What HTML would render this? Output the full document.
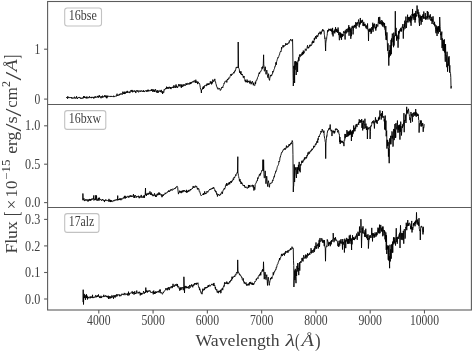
<!DOCTYPE html>
<html><head><meta charset="utf-8"><title>Spectra</title>
<style>html,body{margin:0;padding:0;background:#fff;}svg{display:block;}</style>
</head><body>
<svg width="473" height="352" viewBox="0 0 473 352">
<rect width="473" height="352" fill="#fff"/>
<g fill="none" stroke="#000" stroke-width="0.9" stroke-linejoin="round">
<path d="M66.30,98.00 66.55,97.43 66.80,98.02 67.05,97.72 67.30,98.09 67.55,98.70 67.80,96.31 68.05,97.77 68.30,98.09 68.55,97.71 68.80,97.00 69.05,97.70 69.30,97.99 69.55,97.94 69.80,97.36 70.05,97.39 70.30,97.82 70.55,97.37 70.80,97.92 71.05,98.22 71.30,98.13 71.55,97.19 71.80,98.33 72.05,97.66 72.30,97.74 72.55,98.42 72.80,97.92 73.05,97.86 73.30,97.82 73.55,97.84 73.80,97.99 74.05,98.57 74.30,97.39 74.55,96.76 74.80,98.04 75.05,97.69 75.30,97.90 75.55,98.45 75.80,98.03 76.05,97.67 76.30,98.06 76.55,96.29 76.80,97.15 77.05,98.59 77.30,98.15 77.55,98.80 77.80,97.87 78.05,97.70 78.30,97.38 78.55,97.94 78.80,97.57 79.05,98.01 79.30,96.94 79.55,97.42 79.80,97.74 80.05,97.85 80.30,98.39 80.55,97.63 80.80,97.84 81.05,98.85 81.30,97.93 81.55,98.32 81.80,97.94 82.05,98.18 82.30,98.28 82.55,98.12 82.80,98.49 83.05,97.38 83.30,98.13 83.55,96.39 83.80,97.29 84.05,96.12 84.30,97.85 84.55,96.84 84.80,96.60 85.05,97.77 85.30,97.23 85.55,97.93 85.80,97.87 86.05,98.26 86.30,96.79 86.55,97.69 86.80,98.36 87.05,96.63 87.30,97.24 87.55,97.74 87.80,98.27 88.05,97.65 88.30,97.95 88.55,98.03 88.80,96.92 89.05,97.22 89.30,97.44 89.55,96.32 89.80,97.68 90.05,97.53 90.30,97.57 90.55,97.40 90.80,97.89 91.05,97.37 91.30,98.17 91.55,97.06 91.80,97.73 92.05,96.81 92.30,97.18 92.55,97.53 92.80,97.03 93.05,97.55 93.30,97.76 93.55,97.31 93.80,98.52 94.05,96.77 94.30,96.86 94.55,97.60 94.80,97.38 95.05,96.58 95.30,97.76 95.55,96.58 95.80,97.03 96.05,96.95 96.30,97.06 96.55,97.39 96.80,97.66 97.05,97.40 97.30,95.92 97.55,97.17 97.80,96.24 98.05,96.79 98.30,96.50 98.55,97.64 98.80,96.81 99.05,95.44 99.30,96.76 99.55,95.50 99.80,97.07 100.05,97.00 100.30,97.17 100.55,97.38 100.80,96.54 101.05,98.27 101.30,96.43 101.55,96.61 101.80,97.27 102.05,96.41 102.30,96.31 102.55,95.69 102.80,97.76 103.05,96.16 103.30,96.54 103.55,96.94 103.80,97.04 104.05,96.65 104.30,96.70 104.55,96.62 104.80,95.14 105.05,96.70 105.30,95.83 105.55,96.95 105.80,97.09 106.05,95.69 106.30,97.80 106.55,96.61 106.80,98.31 107.05,95.55 107.30,97.30 107.55,96.47 107.80,97.06 108.05,95.91 108.30,96.23 108.55,96.24 108.80,96.34 109.05,96.47 109.30,96.53 109.55,96.44 109.80,96.07 110.05,96.06 110.30,96.67 110.55,95.94 110.80,96.64 111.05,96.57 111.30,95.98 111.55,96.58 111.80,96.16 112.05,96.18 112.30,96.59 112.55,96.26 112.80,96.69 113.05,96.73 113.30,96.74 113.55,95.74 113.80,96.94 114.05,96.98 114.30,96.85 114.55,96.18 114.80,96.49 115.05,96.24 115.30,95.87 115.55,96.14 115.80,95.97 116.05,96.41 116.30,96.11 116.55,96.03 116.80,94.49 117.05,93.72 117.30,95.83 117.55,95.28 117.80,95.13 118.05,95.74 118.30,95.12 118.55,94.87 118.80,94.70 119.05,95.45 119.30,94.00 119.55,94.79 119.80,93.93 120.05,93.69 120.30,94.52 120.55,93.99 120.80,93.54 121.05,94.23 121.30,93.87 121.55,93.85 121.80,93.54 122.05,94.74 122.30,94.49 122.55,93.58 122.80,91.68 123.05,92.95 123.30,93.74 123.55,92.70 123.80,93.86 124.05,92.94 124.30,91.67 124.55,94.06 124.80,93.19 125.05,92.78 125.30,93.32 125.55,93.58 125.80,91.83 126.05,92.86 126.30,91.78 126.55,92.31 126.80,91.63 127.05,92.77 127.30,90.86 127.55,92.03 127.80,92.65 128.05,92.12 128.30,91.73 128.55,92.06 128.80,92.59 129.05,92.78 129.30,91.72 129.55,91.74 129.80,93.09 130.05,91.93 130.30,91.56 130.55,91.62 130.80,91.58 131.05,89.99 131.30,91.70 131.55,90.65 131.80,90.99 132.05,89.93 132.30,90.97 132.55,92.27 132.80,90.65 133.05,91.61 133.30,91.20 133.55,91.23 133.80,91.63 134.05,91.49 134.30,90.39 134.55,91.50 134.80,91.37 135.05,91.10 135.30,91.33 135.55,90.85 135.80,93.06 136.05,90.90 136.30,90.98 136.55,90.59 136.80,90.28 137.05,90.98 137.30,91.62 137.55,90.84 137.80,90.30 138.05,91.32 138.30,91.93 138.55,92.32 138.80,91.19 139.05,90.55 139.30,91.24 139.55,91.36 139.80,91.48 140.05,91.36 140.30,90.67 140.55,91.72 140.80,91.06 141.05,90.55 141.30,90.60 141.55,90.64 141.80,91.53 142.05,91.11 142.30,91.24 142.55,91.80 142.80,91.31 143.05,91.56 143.30,90.14 143.55,91.49 143.80,91.81 144.05,91.00 144.30,91.95 144.55,91.79 144.80,90.87 145.05,90.79 145.30,90.66 145.55,90.59 145.80,90.97 146.05,91.52 146.30,91.47 146.55,90.54 146.80,91.50 147.05,90.42 147.30,91.28 147.55,91.21 147.80,89.77 148.05,91.39 148.30,91.09 148.55,89.84 148.80,90.67 149.05,91.32 149.30,90.93 149.55,90.53 149.80,90.30 150.05,91.03 150.30,90.90 150.55,90.73 150.80,90.15 151.05,90.65 151.30,89.47 151.55,90.94 151.80,90.54 152.05,88.99 152.30,90.33 152.55,91.44 152.80,90.50 153.05,91.69 153.30,90.25 153.55,91.25 153.80,89.39 154.05,90.46 154.30,89.96 154.55,91.94 154.80,90.62 155.05,90.49 155.30,90.43 155.55,89.26 155.80,90.51 156.05,92.10 156.30,91.86 156.55,90.80 156.80,90.98 157.05,92.90 157.30,90.48 157.55,90.16 157.80,91.23 158.05,92.98 158.30,92.18 158.55,90.80 158.80,90.71 159.05,90.49 159.30,90.38 159.55,91.22 159.80,91.07 160.05,91.86 160.30,91.08 160.55,90.65 160.80,92.13 161.05,90.75 161.30,89.88 161.55,91.51 161.80,92.55 162.05,91.89 162.30,91.23 162.60,94.00 162.80,91.73 163.05,92.72 163.30,92.27 163.55,91.72 163.80,92.43 164.05,89.47 164.30,89.35 164.55,90.15 164.80,90.00 165.05,89.36 165.30,89.12 165.55,88.35 165.80,89.01 166.05,88.40 166.30,88.61 166.55,86.69 166.80,88.76 167.05,88.11 167.30,88.11 167.55,88.05 167.80,86.99 168.05,88.88 168.30,88.32 168.55,87.48 168.80,88.22 169.05,88.39 169.30,86.78 169.55,87.61 169.80,87.36 170.05,87.79 170.30,88.66 170.55,87.12 170.80,88.50 171.05,89.10 171.30,87.57 171.55,88.03 171.80,87.43 172.05,87.52 172.30,86.94 172.55,87.13 172.80,87.88 173.05,86.79 173.30,87.83 173.55,87.93 173.80,85.38 174.05,86.52 174.30,87.66 174.55,86.68 174.80,86.42 175.05,85.71 175.30,86.78 175.55,87.78 175.80,86.29 176.05,84.48 176.30,87.46 176.55,85.91 176.80,86.47 177.05,86.68 177.30,87.06 177.55,87.91 177.80,86.43 178.05,86.61 178.30,86.27 178.55,85.14 178.80,84.10 179.05,86.23 179.30,85.72 179.55,85.88 179.80,84.54 180.05,86.32 180.30,86.18 180.55,86.19 180.80,85.63 181.05,84.18 181.30,87.83 181.55,85.15 181.80,86.27 182.05,86.17 182.30,87.03 182.55,85.16 182.80,84.63 183.05,84.36 183.30,85.29 183.55,86.25 183.80,84.73 184.05,84.36 184.30,85.29 184.55,85.43 184.80,84.60 185.05,85.44 185.30,85.74 185.55,85.27 185.80,85.20 186.05,83.21 186.30,84.32 186.55,84.96 186.80,83.78 187.05,84.80 187.30,83.43 187.55,83.09 187.80,83.18 188.05,83.86 188.30,83.90 188.55,83.53 188.80,83.88 189.05,84.64 189.30,83.12 189.55,82.66 189.80,83.53 190.05,83.06 190.30,84.07 190.55,82.48 190.80,84.04 191.05,82.12 191.30,82.04 191.55,83.13 191.80,82.44 192.05,82.22 192.30,82.35 192.55,82.13 192.80,82.10 193.05,81.15 193.30,82.18 193.55,82.12 193.80,81.43 194.05,80.56 194.30,80.51 194.55,81.32 194.80,81.40 195.05,81.04 195.30,82.98 195.55,80.77 195.80,79.73 196.05,81.40 196.30,81.20 196.55,82.65 196.80,81.75 197.05,81.85 197.30,81.70 197.55,84.10 197.80,82.44 198.05,81.73 198.30,81.97 198.55,83.26 198.80,83.55 199.05,83.80 199.30,83.87 199.55,83.44 199.80,84.63 200.05,85.86 200.30,87.62 200.55,89.00 200.80,89.60 201.05,89.78 201.40,93.00 201.55,89.83 201.80,89.59 202.05,89.18 202.30,89.44 202.55,87.70 202.80,88.97 203.05,88.60 203.30,86.46 203.55,89.00 203.80,86.68 204.05,86.96 204.30,87.58 204.55,85.49 204.80,85.76 205.05,85.81 205.30,85.80 205.55,85.18 205.80,85.22 206.05,85.33 206.30,85.92 206.55,86.04 206.80,83.75 207.05,84.29 207.30,85.16 207.55,83.90 207.80,83.57 208.05,84.72 208.30,83.48 208.55,84.89 208.80,83.91 209.05,84.30 209.30,84.37 209.55,83.48 209.80,83.10 210.05,83.51 210.30,81.45 210.55,82.38 210.80,83.35 211.05,81.63 211.30,83.25 211.55,84.40 211.80,81.81 212.05,83.50 212.30,82.31 212.55,82.74 212.80,79.59 213.05,81.04 213.30,80.77 213.55,81.51 213.80,81.90 214.05,81.20 214.30,79.95 214.55,80.10 214.80,78.89 215.05,80.60 215.30,81.06 215.55,81.64 215.80,83.40 216.05,84.04 216.30,84.90 216.55,86.47 216.80,86.62 217.05,87.52 217.30,87.32 217.55,88.75 217.80,89.00 218.05,89.36 218.30,88.53 218.55,87.97 218.80,88.00 219.05,88.33 219.30,89.18 219.55,88.78 219.80,88.37 220.05,89.24 220.30,90.53 220.55,90.08 220.80,89.60 221.05,89.64 221.30,89.02 221.55,88.31 221.80,87.05 222.05,87.72 222.30,87.04 222.55,86.95 222.80,87.69 223.05,86.33 223.30,85.81 223.55,84.81 223.80,84.53 224.05,83.02 224.30,83.38 224.55,82.93 224.80,81.64 225.05,81.62 225.30,81.71 225.55,81.16 225.80,80.81 226.05,81.18 226.30,80.93 226.55,80.66 226.80,82.46 227.05,79.82 227.30,80.00 227.55,79.00 227.80,79.80 228.05,78.82 228.30,79.25 228.55,78.61 228.80,77.68 229.05,78.49 229.30,77.98 229.55,77.73 229.80,77.48 230.05,76.38 230.30,75.50 230.55,75.29 230.80,74.17 231.05,74.97 231.30,75.83 231.55,74.63 231.80,73.95 232.05,74.63 232.30,73.82 232.55,74.11 232.80,73.91 233.05,73.59 233.30,72.98 233.55,72.49 233.80,72.04 234.05,73.25 234.30,72.37 234.55,70.86 234.80,71.30 235.05,70.84 235.30,71.11 235.55,69.56 235.80,69.53 236.05,67.86 236.30,67.00 236.55,67.60 236.80,66.94 237.05,66.81 237.30,66.90 237.55,67.36 237.80,68.00 238.05,66.78 238.20,42.00 238.55,68.05 238.80,68.13 239.05,68.37 239.30,69.29 239.55,72.66 239.80,71.44 240.05,71.78 240.30,71.64 240.55,73.92 240.80,72.15 241.05,71.42 241.30,74.91 241.55,74.06 241.80,74.82 242.05,74.69 242.30,73.97 242.55,74.82 242.80,75.78 243.05,76.53 243.30,77.56 243.55,76.30 243.80,77.34 244.05,76.05 244.30,78.71 244.55,78.84 244.80,79.49 245.05,81.24 245.30,80.65 245.55,79.87 245.80,82.19 246.05,81.20 246.30,81.85 246.55,81.31 246.80,82.19 247.05,79.55 247.30,81.05 247.55,82.45 247.80,81.00 248.05,81.42 248.30,80.84 248.55,82.09 248.80,81.62 249.05,81.21 249.30,82.16 249.55,83.39 249.80,81.69 250.05,80.59 250.30,82.25 250.55,82.69 250.80,81.89 251.05,84.27 251.30,82.39 251.55,82.67 251.80,83.55 252.05,83.21 252.30,81.09 252.55,81.81 252.80,82.01 253.05,82.72 253.30,85.19 253.55,83.03 253.80,84.09 254.05,85.25 254.30,85.49 254.55,85.23 254.80,85.51 255.05,84.11 255.30,81.83 255.55,84.03 255.80,82.05 256.05,80.73 256.30,80.99 256.55,80.68 256.80,79.90 257.05,78.81 257.30,78.89 257.55,77.53 257.80,76.72 258.05,76.56 258.30,76.47 258.55,74.51 258.80,73.73 259.05,74.09 259.30,72.51 259.55,73.85 259.80,72.61 260.05,71.73 260.30,71.92 260.55,71.57 260.80,71.63 261.05,70.38 261.30,70.17 261.55,70.31 261.80,69.62 262.05,67.06 262.30,68.70 262.55,66.55 262.80,67.90 263.05,67.83 263.30,63.80 263.60,54.80 263.80,64.71 264.05,66.34 264.30,71.10 264.55,71.23 264.80,70.51 265.05,68.48 265.30,66.75 265.55,70.40 265.80,71.65 266.05,74.29 266.30,71.93 266.55,70.96 266.80,70.08 267.05,71.53 267.30,74.47 267.55,75.97 267.80,77.35 268.05,77.80 268.30,74.94 268.55,73.73 268.80,76.05 269.05,79.42 269.30,79.25 269.55,80.38 269.80,78.46 270.05,77.48 270.30,76.81 270.55,74.95 270.80,75.33 271.05,75.69 271.30,76.11 271.55,74.96 271.80,75.23 272.05,73.90 272.30,73.83 272.55,73.85 272.80,71.07 273.05,72.28 273.30,71.46 273.55,71.35 273.80,70.21 274.05,69.35 274.30,69.01 274.55,68.33 274.80,66.98 275.05,66.05 275.30,66.25 275.55,64.60 275.80,62.48 276.05,62.34 276.30,64.84 276.55,61.79 276.80,61.24 277.05,60.35 277.30,59.35 277.55,58.98 277.80,57.54 278.05,58.07 278.30,57.66 278.55,56.96 278.80,56.38 279.05,55.51 279.30,54.62 279.55,54.71 279.80,53.17 280.05,52.11 280.30,51.96 280.55,51.29 280.80,50.93 281.05,51.60 281.30,50.47 281.55,47.26 281.80,48.46 282.05,47.66 282.30,47.31 282.55,46.47 282.80,46.59 283.05,45.07 283.30,45.71 283.55,47.27 283.80,46.35 284.05,45.51 284.30,46.21 284.55,45.74 284.80,45.57 285.05,45.47 285.30,45.74 285.55,45.33 285.80,43.18 286.05,44.97 286.30,44.22 286.55,44.07 286.80,44.82 287.05,44.42 287.30,43.55 287.55,44.36 287.80,43.61 288.05,43.87 288.30,43.50 288.55,43.08 288.80,42.50 289.05,43.21 289.30,40.72 289.55,41.41 289.80,40.89 290.05,40.08 290.30,39.96 290.55,40.01 290.80,39.10 291.05,40.40 291.30,40.84 291.55,40.81 291.80,40.61 292.05,40.41 292.30,40.96 292.55,39.40 292.80,52.00 293.05,73.17 293.30,86.00 293.55,80.57 293.80,66.09 294.05,68.57 294.30,65.58 294.60,83.00 294.80,61.35 295.05,69.89 295.30,67.69 295.55,61.17 295.80,64.92 296.05,65.15 296.20,75.00 296.55,61.77 296.80,62.87 297.05,64.79 297.30,62.78 297.60,72.00 297.80,60.75 298.05,60.96 298.30,61.29 298.55,57.39 298.80,60.80 299.05,60.77 299.30,56.31 299.55,54.55 299.80,56.12 300.05,57.12 300.30,56.25 300.55,55.57 300.80,54.28 301.05,56.06 301.30,55.46 301.55,54.76 301.80,53.67 302.05,52.63 302.30,55.11 302.55,52.07 302.80,53.60 303.05,54.26 303.30,50.58 303.55,54.03 303.80,52.28 304.05,53.08 304.30,51.83 304.55,51.34 304.80,51.43 305.05,51.05 305.30,48.81 305.55,49.24 305.80,49.29 306.05,50.15 306.30,50.50 306.55,49.39 306.80,48.88 307.05,48.02 307.30,46.45 307.55,45.32 307.80,47.06 308.05,48.19 308.30,47.05 308.55,48.11 308.80,48.13 309.05,46.75 309.30,46.85 309.55,45.13 309.80,45.32 310.05,46.36 310.30,44.70 310.55,45.38 310.80,45.78 311.05,44.87 311.30,45.45 311.55,45.09 311.80,44.94 312.05,42.24 312.30,41.69 312.55,43.26 312.80,40.76 313.05,42.10 313.30,42.95 313.55,41.26 313.80,42.50 314.05,40.69 314.30,38.16 314.55,40.06 314.80,38.43 315.05,37.63 315.30,38.31 315.55,36.07 315.80,36.43 316.05,36.98 316.30,38.71 316.55,37.48 316.80,35.34 317.05,36.10 317.30,35.83 317.55,37.06 317.80,36.52 318.05,34.78 318.30,35.17 318.55,34.23 318.80,32.92 319.05,34.07 319.30,32.92 319.55,32.35 319.80,32.08 320.05,31.62 320.30,32.65 320.55,32.14 320.80,34.48 321.05,32.07 321.30,33.41 321.55,31.41 321.80,31.08 322.05,30.57 322.30,31.33 322.55,30.33 322.80,29.10 323.05,31.10 323.30,30.37 323.55,31.12 323.80,30.63 324.05,30.67 324.30,34.28 324.55,35.81 324.80,38.57 325.05,37.81 325.30,42.96 325.60,51.00 325.80,43.37 326.05,41.05 326.30,40.08 326.55,39.52 326.80,36.69 327.05,35.66 327.30,33.77 327.55,30.33 327.80,31.79 328.05,31.73 328.30,29.98 328.55,30.67 328.80,28.75 329.05,29.50 329.30,29.04 329.55,30.24 329.80,29.35 330.05,30.40 330.30,29.02 330.55,28.76 330.80,31.04 331.05,29.05 331.30,28.87 331.55,31.52 331.80,30.14 332.05,31.85 332.30,34.47 332.55,27.89 332.80,30.50 333.05,36.40 333.30,31.76 333.55,30.86 333.80,31.51 334.05,32.07 334.30,32.49 334.55,30.35 334.80,33.39 335.05,29.23 335.30,30.28 335.55,27.17 335.80,31.69 336.05,31.90 336.30,28.90 336.55,30.98 336.80,32.11 337.05,29.54 337.30,29.64 337.55,32.84 337.80,32.34 338.05,27.51 338.30,30.83 338.55,30.49 338.80,35.10 339.05,32.09 339.30,40.20 339.60,40.00 339.80,38.12 340.05,32.36 340.30,36.94 340.55,32.86 340.80,37.81 341.05,33.50 341.30,35.09 341.55,39.80 341.80,33.89 342.05,35.57 342.30,34.11 342.55,36.77 342.80,34.05 343.05,36.03 343.30,33.53 343.55,31.44 343.80,31.27 344.05,30.97 344.30,32.82 344.55,32.13 344.80,32.45 345.10,39.50 345.30,30.30 345.55,32.36 345.80,32.07 346.05,33.52 346.30,28.94 346.55,30.35 346.80,32.62 347.05,31.63 347.30,31.35 347.55,30.63 347.80,28.71 348.05,32.08 348.30,27.90 348.55,29.64 348.80,25.17 349.05,35.74 349.30,27.00 349.55,29.55 349.80,28.81 350.05,31.83 350.30,28.91 350.55,30.49 350.80,38.80 351.05,27.62 351.30,36.16 351.55,31.69 351.80,29.45 352.05,26.24 352.30,25.85 352.55,27.86 352.80,26.93 353.05,34.41 353.30,31.81 353.55,27.16 353.80,25.74 354.05,27.75 354.30,26.37 354.55,24.91 354.80,27.22 355.05,26.68 355.30,25.80 355.55,26.88 355.80,22.13 356.05,28.55 356.30,24.24 356.55,22.87 356.80,22.99 357.05,25.73 357.30,23.90 357.55,22.29 357.80,23.75 358.05,23.16 358.30,21.87 358.55,19.59 358.80,21.74 359.05,26.83 359.30,27.32 359.55,22.53 359.80,24.28 360.05,24.62 360.30,17.97 360.55,23.54 360.80,19.98 361.05,20.55 361.30,22.93 361.55,21.51 361.80,20.67 362.05,22.13 362.30,21.32 362.55,19.83 362.80,23.49 363.05,25.95 363.30,23.13 363.55,25.45 363.80,21.91 364.05,26.11 364.30,25.69 364.55,24.14 364.80,25.67 365.05,23.80 365.30,26.31 365.55,26.61 365.80,25.87 366.05,28.29 366.30,25.45 366.55,27.05 366.80,27.08 367.05,29.11 367.30,27.41 367.55,23.49 367.80,29.21 368.05,30.33 368.30,31.23 368.50,41.00 368.80,29.41 369.05,31.54 369.30,28.71 369.55,31.29 369.80,30.78 370.05,31.89 370.30,28.72 370.55,30.78 370.80,28.60 371.05,33.89 371.30,30.52 371.55,32.78 371.80,27.02 372.05,29.58 372.30,29.93 372.55,27.15 372.80,22.72 373.05,31.74 373.30,29.43 373.55,24.56 373.80,24.30 374.05,27.70 374.30,25.39 374.55,23.66 374.80,25.16 375.05,27.53 375.30,28.85 375.55,27.12 375.80,30.61 376.05,28.25 376.30,24.44 376.55,28.12 376.80,24.16 377.05,24.92 377.30,25.47 377.55,25.61 377.80,26.53 378.05,24.57 378.30,21.74 378.55,17.29 378.80,22.91 379.05,22.26 379.30,23.96 379.55,24.01 379.70,16.90 380.05,21.81 380.30,20.85 380.55,23.86 380.80,23.31 381.05,22.19 381.30,24.61 381.55,21.60 381.80,20.04 382.05,23.56 382.30,25.74 382.55,21.29 382.80,26.50 383.05,26.79 383.30,24.26 383.55,22.35 383.80,24.64 384.05,23.77 384.30,27.62 384.55,22.98 384.80,29.57 385.05,29.74 385.30,30.10 385.55,35.47 385.80,26.07 386.05,39.83 386.30,35.60 386.55,40.09 386.80,32.29 387.05,32.58 387.30,41.91 387.55,50.73 387.80,47.92 388.05,43.39 388.30,53.23 388.55,54.80 388.80,65.60 389.05,52.40 389.30,57.29 389.55,50.07 389.80,54.02 390.05,45.17 390.30,47.89 390.55,55.57 390.80,46.94 391.05,39.89 391.30,54.19 391.55,38.50 391.80,45.68 392.05,38.37 392.30,33.58 392.55,35.58 392.80,37.08 393.05,42.21 393.30,37.23 393.55,47.21 393.80,32.64 394.05,45.56 394.30,35.66 394.55,36.58 394.80,36.29 395.05,36.05 395.30,11.20 395.55,35.98 395.80,35.30 396.05,27.89 396.30,32.44 396.55,40.61 396.80,34.67 397.05,34.93 397.30,38.56 397.55,36.58 397.80,38.03 398.05,47.69 398.30,38.99 398.55,31.27 398.80,39.23 399.05,30.84 399.30,33.41 399.55,30.90 399.80,29.43 400.05,30.30 400.30,30.99 400.55,30.92 400.80,27.86 401.05,31.67 401.30,28.73 401.55,31.23 401.80,28.26 402.05,26.79 402.30,27.34 402.55,27.58 402.80,24.16 403.05,27.84 403.30,38.62 403.55,27.16 403.80,30.32 404.05,26.97 404.30,23.88 404.55,27.04 404.80,20.68 405.05,28.69 405.30,24.46 405.55,21.47 405.80,16.71 406.05,16.64 406.30,28.02 406.55,25.91 406.80,21.14 407.05,21.63 407.30,22.13 407.55,14.70 407.80,18.74 408.05,22.47 408.30,18.95 408.55,17.26 408.80,19.74 409.05,17.34 409.30,21.22 409.55,19.67 409.80,16.80 410.05,21.60 410.30,22.53 410.55,15.68 410.80,17.85 411.05,25.78 411.30,16.59 411.55,18.90 411.80,20.32 412.05,14.06 412.30,16.04 412.55,8.98 412.80,16.63 413.05,18.55 413.30,14.58 413.55,15.71 413.80,13.74 414.05,20.01 414.30,15.81 414.55,13.47 414.80,18.41 415.05,22.58 415.30,13.20 415.55,20.05 415.80,10.93 416.05,15.73 416.30,16.60 416.55,15.18 416.80,15.78 417.05,5.52 417.30,11.63 417.55,13.17 417.80,13.86 418.05,9.44 418.30,15.97 418.55,17.43 418.80,12.20 419.05,22.27 419.30,23.14 419.50,26.00 419.80,14.80 420.05,14.78 420.30,20.57 420.55,16.46 420.80,19.48 421.05,24.73 421.30,23.05 421.55,15.97 421.80,17.60 422.05,22.01 422.30,17.86 422.55,15.54 422.80,17.23 423.05,14.10 423.30,14.97 423.55,18.67 423.80,11.53 424.05,17.92 424.30,18.36 424.55,18.36 424.80,17.35 425.05,18.47 425.30,13.09 425.55,19.61 425.80,18.61 426.05,19.05 426.30,17.36 426.55,16.52 426.80,16.34 427.05,19.56 427.30,11.03 427.55,17.97 427.80,17.80 428.05,11.87 428.30,15.08 428.55,16.94 428.80,17.55 429.05,19.45 429.30,18.74 429.55,15.68 429.80,17.19 430.05,16.48 430.30,14.31 430.55,18.73 430.80,20.70 431.05,18.83 431.30,19.00 431.55,20.63 431.80,16.90 432.05,23.97 432.30,20.03 432.55,19.28 432.80,21.74 433.05,16.33 433.30,22.82 433.55,24.29 433.80,23.75 434.05,23.96 434.30,25.02 434.55,21.80 434.80,26.27 435.05,24.41 435.30,26.06 435.55,29.11 435.80,32.09 436.05,33.25 436.30,25.53 436.55,30.78 436.80,30.31 437.05,36.02 437.30,27.67 437.55,32.17 437.80,26.40 438.05,28.88 438.30,33.60 438.55,26.42 438.80,29.66 439.05,25.92 439.30,26.05 439.55,31.86 439.70,17.00 440.05,26.77 440.30,28.70 440.55,35.14 440.80,34.25 441.05,39.96 441.30,33.27 441.55,34.64 441.80,31.62 442.05,48.06 442.30,38.39 442.55,46.16 442.80,44.47 443.05,50.60 443.30,40.03 443.55,44.66 443.80,51.10 444.05,47.78 444.30,39.34 444.55,52.43 444.80,44.10 445.05,56.39 445.30,61.73 445.55,44.06 445.80,55.84 446.05,55.85 446.30,55.44 446.55,60.06 446.80,67.20 447.05,51.74 447.30,60.93 447.55,71.69 447.80,64.07 448.05,66.04 448.30,64.68 448.55,57.46 448.80,64.92 449.05,56.21 449.30,65.28 449.55,72.38 449.80,65.26 450.05,72.81 450.30,72.53 450.55,73.57 450.80,77.75 451.05,88.45 451.30,85.98"/>
<path d="M82.70,200.29 82.90,193.50 83.20,199.59 83.45,199.41 83.70,199.86 83.95,198.32 84.20,200.73 84.45,201.08 84.70,199.97 84.95,200.07 85.20,200.27 85.45,200.27 85.70,200.51 85.95,199.01 86.20,200.14 86.45,200.20 86.70,199.89 86.95,200.80 87.20,200.99 87.45,201.11 87.70,200.34 87.95,199.29 88.20,201.47 88.45,200.25 88.70,200.19 88.95,200.93 89.20,199.01 89.45,199.02 89.70,200.37 89.95,199.55 90.20,199.10 90.45,200.65 90.70,199.68 90.95,198.99 91.20,200.30 91.45,198.94 91.70,198.97 91.95,199.05 92.20,198.64 92.45,199.32 92.70,199.68 92.95,199.19 93.20,198.23 93.45,198.88 93.80,195.40 93.95,200.47 94.20,199.50 94.45,198.90 94.70,199.58 94.95,198.78 95.20,199.10 95.45,199.60 95.80,195.20 95.95,199.75 96.20,200.24 96.50,195.60 96.70,198.22 96.95,198.72 97.20,200.88 97.45,200.15 97.70,199.79 97.95,198.90 98.20,199.64 98.45,197.86 98.70,199.81 98.95,200.82 99.20,199.26 99.45,197.68 99.70,199.47 99.95,199.53 100.20,199.52 100.45,200.04 100.70,199.40 100.95,199.52 101.20,199.91 101.45,200.67 101.70,199.86 101.95,200.23 102.20,200.05 102.45,199.05 102.70,199.69 102.95,199.80 103.20,200.42 103.45,199.89 103.70,199.80 103.95,200.66 104.20,200.01 104.45,202.05 104.70,200.67 104.95,200.03 105.20,200.70 105.45,200.59 105.70,199.47 105.95,200.36 106.20,200.24 106.45,200.03 106.70,200.66 106.95,201.00 107.20,200.97 107.45,200.71 107.70,200.30 107.95,200.13 108.20,200.66 108.45,200.73 108.70,201.53 108.95,198.89 109.20,200.72 109.45,200.26 109.70,200.57 109.95,201.76 110.20,199.89 110.45,202.05 110.70,200.35 110.95,201.12 111.20,200.12 111.45,201.15 111.70,202.00 111.95,201.65 112.20,201.75 112.45,201.48 112.70,200.90 112.95,200.99 113.20,200.53 113.45,200.40 113.70,201.19 113.95,201.33 114.20,200.86 114.45,200.11 114.70,200.65 114.95,200.33 115.20,199.55 115.45,199.95 115.70,200.43 115.95,200.00 116.20,199.57 116.45,199.69 116.70,199.84 116.95,199.31 117.20,200.46 117.45,199.89 117.70,195.60 117.95,199.88 118.20,199.93 118.45,199.00 118.70,200.11 118.95,199.25 119.20,199.30 119.45,199.74 119.70,198.46 119.95,199.40 120.20,199.93 120.45,198.93 120.70,198.41 120.95,200.22 121.20,198.99 121.45,198.64 121.70,198.60 121.95,199.40 122.20,198.82 122.45,198.71 122.70,198.46 122.95,198.51 123.20,197.58 123.45,197.59 123.70,198.42 123.95,198.21 124.20,197.08 124.45,195.87 124.70,198.25 124.95,197.34 125.20,198.20 125.45,198.42 125.70,195.94 125.95,196.16 126.20,197.87 126.45,197.16 126.70,197.46 126.95,196.96 127.20,196.73 127.45,196.51 127.70,196.41 127.95,195.86 128.20,197.39 128.45,197.13 128.70,197.52 128.95,196.06 129.20,196.76 129.45,197.19 129.70,196.18 129.95,196.03 130.20,195.16 130.45,196.46 130.70,196.69 130.95,196.07 131.20,197.02 131.45,195.63 131.70,196.27 131.95,196.50 132.20,196.00 132.45,196.60 132.70,196.43 132.95,195.56 133.20,195.83 133.45,194.13 133.70,196.02 133.95,197.84 134.20,195.78 134.45,195.96 134.70,197.91 134.95,195.32 135.20,195.93 135.45,195.46 135.70,195.88 135.95,195.87 136.20,197.73 136.45,196.81 136.70,196.27 136.95,196.61 137.20,196.26 137.45,196.32 137.70,196.63 137.95,197.13 138.20,196.26 138.45,195.78 138.70,197.03 138.95,197.64 139.20,198.24 139.45,196.62 139.70,196.80 139.95,198.00 140.20,196.26 140.45,196.71 140.70,196.43 140.95,196.42 141.20,194.91 141.45,196.06 141.70,197.54 141.95,196.75 142.20,197.52 142.45,197.27 142.70,197.30 142.95,196.29 143.20,196.53 143.45,197.65 143.70,195.80 143.95,196.71 144.20,195.29 144.45,197.77 144.70,195.50 144.95,195.74 145.20,194.50 145.50,188.00 145.70,195.01 145.95,194.05 146.20,193.83 146.45,195.93 146.70,194.11 146.95,194.21 147.20,193.51 147.45,194.01 147.70,194.72 147.95,193.80 148.20,192.85 148.45,194.44 148.70,193.48 148.95,193.39 149.20,193.23 149.45,193.89 149.70,194.02 149.95,191.38 150.20,193.75 150.45,194.79 150.70,193.28 150.95,193.69 151.20,192.38 151.45,194.02 151.70,194.86 151.95,193.84 152.20,195.22 152.45,194.86 152.70,194.67 152.95,196.16 153.20,194.70 153.45,195.27 153.70,195.32 153.95,196.05 154.20,195.95 154.45,193.27 154.70,193.81 154.95,195.37 155.20,195.14 155.45,195.08 155.70,196.86 155.95,195.30 156.20,196.95 156.45,195.07 156.70,194.76 156.95,193.92 157.20,194.40 157.45,193.95 157.70,195.37 157.95,193.45 158.20,194.31 158.45,194.33 158.70,194.51 158.95,192.35 159.20,194.77 159.45,193.05 159.70,193.15 159.95,194.52 160.20,193.66 160.45,193.93 160.70,194.35 160.95,194.85 161.20,195.51 161.45,194.46 161.70,194.49 161.95,197.19 162.20,195.34 162.45,196.27 162.70,195.74 162.95,194.52 163.20,195.85 163.45,194.61 163.70,194.73 163.95,194.55 164.20,194.55 164.45,194.18 164.70,194.47 164.95,193.70 165.20,192.74 165.45,193.99 165.70,193.66 165.95,193.67 166.20,193.42 166.45,192.83 166.70,192.44 166.95,192.69 167.20,192.68 167.45,192.16 167.70,192.21 167.95,191.27 168.20,191.63 168.45,191.21 168.70,190.52 168.95,191.98 169.20,190.63 169.45,191.40 169.70,191.48 169.95,191.05 170.20,191.03 170.45,189.76 170.70,190.23 170.95,189.47 171.20,189.59 171.45,189.22 171.70,190.13 171.95,190.00 172.20,190.47 172.45,189.95 172.70,189.25 172.95,188.68 173.20,189.15 173.45,189.38 173.70,189.48 173.95,189.06 174.20,188.62 174.45,188.83 174.70,188.02 174.95,188.47 175.20,188.52 175.45,188.47 175.70,187.31 175.95,187.73 176.20,187.57 176.45,186.72 176.70,186.57 176.95,186.13 177.20,186.18 177.45,186.92 177.70,187.50 177.95,190.03 178.20,192.16 178.45,194.12 178.70,193.12 178.95,192.13 179.20,192.28 179.45,191.91 179.70,190.67 179.95,192.53 180.20,191.82 180.45,191.51 180.70,192.32 180.95,191.17 181.20,193.17 181.45,191.41 181.70,191.56 181.95,190.75 182.20,192.40 182.45,191.17 182.70,190.54 182.95,191.46 183.20,192.12 183.45,191.38 183.70,190.19 183.95,191.03 184.20,190.96 184.45,190.30 184.70,190.87 184.95,191.56 185.20,192.00 185.45,191.09 185.70,191.21 185.95,191.30 186.20,192.23 186.45,189.84 186.70,192.71 186.95,191.99 187.20,191.25 187.45,192.23 187.70,190.79 187.95,192.03 188.20,191.23 188.45,190.18 188.70,190.59 188.95,191.47 189.20,189.88 189.45,190.37 189.70,190.53 189.95,190.34 190.20,190.52 190.45,189.04 190.70,190.12 190.95,189.89 191.20,189.14 191.45,189.27 191.70,188.79 191.95,188.56 192.20,188.46 192.45,188.84 192.70,187.58 192.95,187.50 193.20,185.98 193.45,187.38 193.70,187.93 193.95,187.36 194.20,187.88 194.45,186.65 194.70,186.58 194.95,186.72 195.20,186.56 195.45,185.72 195.70,186.25 195.95,187.33 196.20,186.48 196.45,186.00 196.70,186.20 196.95,187.11 197.20,187.94 197.45,189.43 197.70,188.00 197.95,188.83 198.20,188.53 198.45,189.29 198.70,188.65 198.95,188.97 199.20,191.27 199.45,191.02 199.70,191.44 199.95,192.78 200.20,192.81 200.45,194.30 200.70,195.13 200.95,195.57 201.20,195.53 201.45,195.18 201.70,195.38 201.95,195.26 202.20,195.00 202.45,194.69 202.70,194.01 202.95,193.76 203.20,193.63 203.45,195.02 203.70,193.36 203.95,194.66 204.20,193.07 204.45,192.90 204.70,191.37 204.95,193.96 205.20,193.56 205.45,192.90 205.70,194.09 205.95,193.16 206.20,193.01 206.45,193.32 206.70,192.37 206.95,191.28 207.20,192.33 207.45,192.13 207.70,191.74 207.95,192.19 208.20,190.93 208.45,190.90 208.70,190.52 208.95,190.59 209.20,190.15 209.45,190.03 209.70,189.25 209.95,189.97 210.20,189.20 210.45,189.50 210.70,189.23 210.95,189.45 211.20,188.52 211.45,189.10 211.70,188.95 211.95,188.77 212.20,188.13 212.45,188.84 212.70,187.73 212.95,188.71 213.20,188.54 213.45,187.96 213.70,187.15 213.95,188.38 214.20,188.38 214.45,189.13 214.70,189.50 214.95,190.92 215.20,190.43 215.45,191.96 215.70,192.16 215.95,191.08 216.20,191.66 216.45,193.00 216.70,194.47 216.95,194.15 217.20,193.65 217.45,196.51 217.70,194.77 217.95,194.84 218.20,194.88 218.45,194.65 218.70,194.05 218.95,195.17 219.20,194.92 219.45,195.26 219.70,195.81 219.95,194.62 220.20,194.47 220.45,194.32 220.70,194.88 220.95,193.35 221.20,193.34 221.45,192.88 221.70,193.21 221.95,191.71 222.20,192.15 222.45,193.69 222.70,191.58 222.95,191.34 223.20,190.20 223.45,189.89 223.70,190.03 223.95,188.63 224.20,188.79 224.45,188.25 224.70,189.20 224.95,187.97 225.20,187.83 225.45,185.97 225.70,185.98 225.95,184.54 226.20,185.01 226.45,185.49 226.70,183.09 226.95,185.75 227.20,185.29 227.45,184.93 227.70,185.14 227.95,183.60 228.20,184.66 228.45,183.77 228.70,183.45 228.95,182.56 229.20,184.06 229.45,182.28 229.70,184.28 229.95,183.15 230.20,182.29 230.45,181.58 230.70,182.39 230.95,181.48 231.20,180.97 231.45,182.70 231.70,181.03 231.95,180.83 232.20,180.59 232.45,181.26 232.70,180.26 232.95,179.77 233.20,178.62 233.45,179.80 233.70,179.72 233.95,177.62 234.20,176.96 234.45,177.95 234.70,177.53 234.95,176.93 235.20,176.13 235.45,175.60 235.70,174.63 235.95,175.68 236.20,174.45 236.45,173.78 236.70,173.37 236.95,173.27 237.20,172.50 237.45,173.13 237.80,156.70 237.95,173.07 238.20,173.73 238.45,175.70 238.70,176.62 238.95,178.18 239.20,178.53 239.45,181.30 239.70,181.12 239.95,179.02 240.20,181.04 240.45,181.82 240.70,181.02 240.95,183.82 241.20,182.18 241.45,182.43 241.70,184.00 241.95,182.75 242.20,184.18 242.45,184.53 242.70,184.52 242.95,185.23 243.20,185.82 243.45,185.11 243.70,185.17 243.95,186.07 244.20,186.00 244.45,185.02 244.70,187.21 244.95,187.54 245.20,187.09 245.45,187.14 245.70,187.69 245.95,186.63 246.20,187.42 246.45,187.89 246.70,187.95 246.95,187.73 247.20,188.10 247.45,188.42 247.70,188.23 247.95,187.06 248.20,187.65 248.45,184.98 248.70,187.44 248.95,187.44 249.20,186.41 249.45,185.02 249.70,186.75 249.95,186.76 250.20,186.86 250.45,185.86 250.70,185.44 250.95,185.67 251.20,185.74 251.45,185.91 251.70,186.15 251.95,185.61 252.20,186.52 252.45,184.84 252.70,185.69 252.95,185.65 253.20,187.40 253.45,186.73 253.70,185.35 253.90,190.50 254.20,187.01 254.45,189.21 254.70,189.12 254.95,189.51 255.20,184.55 255.45,183.75 255.70,183.73 255.95,183.40 256.20,183.03 256.45,181.43 256.70,180.81 256.95,180.85 257.20,180.90 257.45,180.95 257.70,177.63 257.95,178.83 258.20,178.19 258.45,177.31 258.70,176.56 258.95,175.76 259.20,175.95 259.45,174.39 259.70,173.95 259.95,174.80 260.20,175.45 260.45,173.33 260.70,174.08 260.95,173.08 261.20,172.48 261.45,171.87 261.70,170.83 261.95,170.06 262.20,170.53 262.45,170.36 262.70,169.09 262.90,159.70 263.20,171.10 263.45,168.85 263.60,159.80 263.95,173.73 264.20,177.58 264.45,178.14 264.70,177.86 264.95,174.47 265.20,170.87 265.45,175.02 265.70,178.61 265.95,183.72 266.20,181.04 266.45,179.83 266.70,176.15 266.95,178.50 267.20,181.91 267.45,184.95 267.70,186.58 267.95,183.21 268.20,182.26 268.45,180.76 268.70,182.75 268.95,183.58 269.20,186.78 269.45,187.28 269.70,184.74 269.95,183.82 270.20,183.21 270.45,182.99 270.70,183.62 270.95,183.14 271.20,183.28 271.45,182.75 271.70,182.79 271.95,182.37 272.20,182.63 272.45,180.33 272.70,180.39 272.95,180.97 273.20,179.20 273.45,178.90 273.70,177.87 273.95,176.55 274.20,177.19 274.45,176.97 274.70,174.62 274.95,173.74 275.20,173.20 275.45,173.22 275.70,171.27 275.95,171.79 276.20,170.35 276.45,170.47 276.70,169.78 276.95,168.57 277.20,167.43 277.45,166.46 277.70,166.17 277.95,165.64 278.20,164.98 278.45,164.58 278.70,163.84 278.95,161.10 279.20,161.88 279.45,161.65 279.70,160.51 279.95,158.06 280.20,156.84 280.45,157.00 280.70,155.45 280.95,155.16 281.20,153.94 281.45,152.64 281.70,152.18 281.95,152.52 282.20,151.72 282.45,151.87 282.70,150.60 282.95,150.34 283.20,150.49 283.45,149.24 283.70,149.30 283.95,148.92 284.20,149.13 284.45,149.38 284.70,148.31 284.95,149.11 285.20,149.76 285.45,148.39 285.70,147.86 285.95,148.53 286.20,147.68 286.45,145.60 286.70,147.27 286.95,147.77 287.20,147.74 287.45,147.15 287.70,146.34 287.95,146.90 288.20,146.81 288.45,147.11 288.70,146.17 288.95,144.41 289.20,145.73 289.45,144.58 289.70,144.08 289.95,145.27 290.20,144.85 290.45,143.59 290.70,143.50 290.95,142.91 291.20,144.12 291.45,142.24 291.70,142.31 291.95,141.70 292.20,140.51 292.45,141.06 292.70,142.32 292.95,154.63 293.30,192.00 293.45,186.24 293.70,186.37 293.95,180.64 294.20,164.41 294.45,168.45 294.60,182.00 294.95,167.01 295.20,169.73 295.45,167.85 295.70,168.02 295.95,174.46 296.20,176.20 296.40,178.00 296.70,172.27 296.95,167.18 297.20,173.75 297.45,167.47 297.70,172.91 297.95,173.68 298.20,168.95 298.45,164.86 298.70,169.70 298.95,166.53 299.20,161.88 299.45,171.03 299.70,168.31 299.95,170.52 300.20,172.29 300.45,166.10 300.70,164.18 300.95,165.37 301.20,163.66 301.45,163.53 301.70,160.95 301.95,160.69 302.20,162.88 302.45,161.68 302.70,161.15 302.95,162.23 303.20,159.88 303.45,159.71 303.70,160.42 303.95,160.45 304.20,159.78 304.45,157.57 304.70,159.57 304.95,158.71 305.20,157.60 305.45,158.22 305.70,157.95 305.95,157.10 306.20,158.47 306.45,156.85 306.70,157.61 306.95,155.22 307.20,155.89 307.45,156.10 307.70,153.85 307.95,152.56 308.20,153.60 308.45,154.41 308.70,153.88 308.95,151.77 309.20,153.55 309.45,152.98 309.70,153.19 309.95,151.58 310.20,151.32 310.45,151.63 310.70,151.88 310.95,150.33 311.20,151.01 311.45,150.52 311.70,150.67 311.95,148.79 312.20,149.89 312.45,149.00 312.70,149.07 312.95,148.89 313.20,148.07 313.45,148.08 313.70,145.91 313.95,146.04 314.20,147.25 314.45,145.97 314.70,146.61 314.95,145.93 315.20,145.09 315.45,143.79 315.70,143.67 315.95,144.68 316.20,144.33 316.45,143.03 316.70,141.47 316.95,141.24 317.20,141.64 317.45,140.55 317.70,142.78 317.95,138.57 318.20,139.82 318.45,137.59 318.70,136.56 318.95,135.97 319.20,136.92 319.45,135.76 319.70,134.97 319.95,134.53 320.20,133.71 320.45,133.87 320.70,132.56 320.95,130.98 321.20,132.31 321.45,132.32 321.70,131.53 321.95,131.94 322.20,129.10 322.45,130.17 322.70,130.18 322.95,130.26 323.20,131.48 323.45,132.91 323.70,132.44 323.95,130.74 324.20,135.67 324.45,137.00 324.70,138.38 324.95,139.55 325.20,141.70 325.45,142.56 325.70,158.60 325.95,143.17 326.20,140.21 326.45,138.69 326.70,135.78 326.95,136.26 327.20,133.39 327.45,132.01 327.70,130.73 327.95,130.97 328.20,130.39 328.45,129.98 328.70,128.64 328.95,129.15 329.20,129.30 329.45,127.87 329.70,129.21 329.95,127.63 330.20,124.53 330.45,129.30 330.70,129.22 330.95,131.26 331.20,131.02 331.45,130.86 331.70,129.87 331.95,136.05 332.20,133.07 332.45,132.45 332.70,131.18 332.95,130.64 333.20,132.24 333.45,130.82 333.70,131.78 333.95,132.88 334.20,133.53 334.45,131.00 334.70,132.78 334.95,132.08 335.20,130.75 335.45,128.81 335.70,128.86 335.95,129.97 336.20,128.71 336.45,128.66 336.70,129.09 336.95,129.61 337.20,128.94 337.45,130.71 337.70,132.34 337.95,131.44 338.20,131.14 338.45,130.42 338.70,131.69 338.95,133.92 339.20,133.96 339.45,135.29 339.70,142.16 339.95,137.04 340.20,144.02 340.45,140.19 340.70,142.46 340.95,140.76 341.20,141.55 341.45,141.43 341.70,142.62 341.95,140.82 342.20,141.88 342.45,141.79 342.70,141.09 342.95,143.15 343.20,142.07 343.45,143.04 343.70,142.82 343.95,146.14 344.20,140.08 344.45,139.80 344.70,140.32 344.95,133.93 345.20,138.34 345.45,135.62 345.70,134.09 345.95,136.48 346.20,135.87 346.45,136.37 346.70,137.04 346.95,130.06 347.20,136.65 347.45,134.34 347.70,132.04 347.95,131.46 348.20,136.27 348.45,133.78 348.70,131.62 348.95,135.46 349.20,132.18 349.45,134.91 349.70,130.73 349.95,134.46 350.20,133.79 350.45,129.75 350.70,134.47 350.95,133.69 351.20,132.02 351.40,141.00 351.70,131.60 351.95,130.79 352.20,136.95 352.45,132.82 352.70,130.25 352.95,134.16 353.20,132.17 353.45,132.63 353.70,125.51 353.95,131.41 354.20,130.47 354.45,127.86 354.70,129.02 354.95,131.22 355.20,129.21 355.45,126.59 355.70,128.68 355.95,124.64 356.20,125.83 356.45,124.37 356.70,123.95 356.95,127.12 357.20,125.41 357.45,124.55 357.70,124.74 357.95,124.22 358.20,124.05 358.45,122.58 358.70,124.86 358.95,121.63 359.20,119.29 359.45,120.19 359.70,122.99 359.95,120.58 360.20,122.09 360.45,122.47 360.70,120.03 360.95,121.13 361.20,122.38 361.45,122.29 361.70,119.06 361.95,127.87 362.20,123.14 362.45,123.24 362.70,130.43 362.95,120.75 363.20,122.21 363.45,120.72 363.70,125.03 363.95,128.90 364.20,126.36 364.45,125.72 364.70,123.65 364.95,118.73 365.20,128.31 365.45,126.39 365.70,125.49 365.95,123.63 366.20,125.89 366.45,129.92 366.70,126.94 366.95,126.24 367.20,128.66 367.40,139.00 367.70,127.54 367.95,127.67 368.20,129.39 368.45,127.80 368.70,127.99 368.95,128.27 369.20,127.48 369.45,126.95 369.70,127.44 369.95,129.99 370.10,139.00 370.45,131.36 370.70,125.78 370.95,126.49 371.20,126.03 371.45,125.97 371.70,124.52 371.95,122.15 372.20,122.64 372.45,121.58 372.70,120.96 372.95,122.66 373.20,123.33 373.45,121.41 373.70,120.41 373.95,120.91 374.20,125.31 374.45,128.48 374.70,121.50 374.95,121.89 375.20,121.75 375.45,117.33 375.70,120.56 375.95,122.49 376.20,121.03 376.45,119.83 376.70,122.71 376.95,121.53 377.20,123.86 377.45,120.68 377.70,120.16 377.95,120.56 378.20,120.91 378.45,117.67 378.70,120.08 378.95,117.91 379.20,116.66 379.45,119.33 379.70,114.31 379.95,110.45 380.20,115.10 380.45,114.38 380.70,115.60 380.95,114.95 381.20,119.56 381.45,116.51 381.70,113.16 381.95,117.11 382.20,115.10 382.45,111.06 382.70,116.98 382.95,117.84 383.20,117.16 383.45,117.31 383.70,116.20 383.95,116.63 384.20,121.32 384.45,119.16 384.70,129.54 384.95,120.79 385.20,115.59 385.45,126.29 385.70,130.31 385.95,120.59 386.20,136.28 386.45,131.99 386.70,130.66 386.95,148.59 387.20,139.81 387.45,146.03 387.70,140.42 387.95,145.78 388.20,142.19 388.45,156.62 388.70,148.29 388.95,151.33 389.20,163.20 389.45,148.44 389.70,138.41 389.95,142.93 390.20,144.16 390.45,143.43 390.70,135.80 390.95,144.30 391.20,139.85 391.45,136.43 391.70,136.79 391.95,131.42 392.20,132.11 392.45,138.39 392.70,135.83 392.95,146.61 393.20,145.89 393.45,130.02 393.70,129.08 393.95,129.03 394.20,140.13 394.45,129.69 394.70,131.22 394.95,124.00 395.20,137.98 395.45,130.43 395.70,137.62 395.95,123.11 396.20,126.19 396.45,128.51 396.70,129.37 396.95,128.13 397.20,124.31 397.45,120.56 397.70,130.82 397.95,132.77 398.20,126.52 398.45,129.67 398.70,125.19 398.95,132.24 399.20,131.57 399.45,124.68 399.70,130.86 399.95,139.62 400.20,126.04 400.45,131.79 400.70,121.64 400.95,125.64 401.20,126.25 401.45,135.50 401.70,131.75 401.95,127.77 402.20,126.22 402.45,127.93 402.70,124.34 402.95,126.49 403.20,125.74 403.45,123.13 403.70,124.04 403.95,113.15 404.20,132.20 404.45,120.80 404.70,120.00 404.95,120.49 405.20,121.03 405.45,118.77 405.70,114.57 405.95,123.01 406.20,116.00 406.45,113.24 406.70,106.84 406.95,114.15 407.20,110.47 407.45,112.89 407.70,112.25 407.95,110.24 408.20,110.72 408.45,108.80 408.70,110.67 408.95,113.86 409.20,114.28 409.45,116.55 409.70,118.84 409.95,120.04 410.20,117.81 410.45,121.08 410.70,122.83 410.95,111.97 411.20,115.66 411.45,115.80 411.70,113.93 411.95,117.56 412.20,117.90 412.45,121.64 412.70,113.41 412.95,114.38 413.20,116.79 413.45,112.99 413.70,114.02 413.95,112.34 414.20,113.13 414.45,113.25 414.70,115.69 414.95,112.72 415.20,111.88 415.45,115.48 415.70,109.05 415.95,113.96 416.20,116.82 416.45,112.50 416.70,112.79 416.95,114.09 417.20,115.71 417.45,116.00 417.70,113.74 417.95,116.01 418.20,114.47 418.45,116.88 418.70,120.08 418.95,120.35 419.10,132.60 419.45,123.91 419.70,123.57 419.95,124.07 420.20,122.88 420.45,123.07 420.70,120.53 420.95,126.36 421.20,120.53 421.45,123.32 421.70,126.44 421.95,124.13 422.20,125.69 422.45,124.80 422.70,122.97 422.95,124.80 423.20,131.84 423.45,127.24 423.70,128.22 423.95,127.06 424.20,124.14"/>
<path d="M83.00,302.08 83.20,289.70 83.50,304.50 83.75,296.88 84.00,297.86 84.25,293.90 84.50,297.36 84.75,297.80 85.00,295.54 85.25,298.02 85.50,299.79 85.75,297.05 86.00,294.86 86.25,297.81 86.50,294.32 86.75,298.01 87.00,296.55 87.25,295.84 87.50,299.45 87.75,297.42 88.00,297.15 88.25,297.95 88.50,297.63 88.75,296.86 89.00,298.32 89.25,297.70 89.50,297.46 89.75,297.25 90.00,296.63 90.25,297.19 90.50,298.22 90.75,296.58 91.00,297.30 91.25,297.86 91.50,297.35 91.75,296.59 92.00,297.06 92.25,297.77 92.50,294.83 92.75,296.84 93.00,298.13 93.25,297.15 93.50,297.41 93.75,297.70 94.00,297.35 94.25,296.78 94.50,297.30 94.75,297.47 95.00,296.88 95.25,296.63 95.50,295.33 95.75,295.40 96.00,297.40 96.25,296.70 96.50,296.83 96.75,295.73 97.00,296.97 97.25,296.52 97.50,295.81 97.75,296.73 98.00,295.02 98.25,295.81 98.50,294.49 98.75,296.82 99.00,297.07 99.25,296.70 99.50,296.50 99.75,298.04 100.00,296.60 100.25,297.24 100.50,297.86 100.75,297.79 101.00,295.77 101.25,297.81 101.50,298.06 101.75,296.84 102.00,296.93 102.25,296.55 102.50,296.75 102.75,296.60 103.00,296.21 103.25,296.53 103.50,296.79 103.75,294.80 104.00,297.07 104.25,296.76 104.50,296.48 104.75,296.39 105.00,296.40 105.25,295.33 105.50,295.53 105.75,296.54 106.00,296.21 106.25,296.72 106.50,295.79 106.75,297.10 107.00,296.69 107.25,296.07 107.50,296.81 107.75,296.54 108.00,297.71 108.25,295.69 108.50,298.91 108.75,297.14 109.00,296.82 109.25,297.27 109.50,296.38 109.75,298.57 110.00,297.30 110.25,296.52 110.50,296.80 110.75,298.24 111.00,296.49 111.25,297.90 111.50,296.54 111.75,295.44 112.00,295.64 112.25,296.46 112.50,295.82 112.75,297.37 113.00,297.41 113.25,297.04 113.50,298.76 113.75,295.37 114.00,295.27 114.25,296.25 114.50,297.16 114.75,295.46 115.00,297.35 115.25,297.52 115.50,295.43 115.75,295.96 116.00,296.01 116.25,294.75 116.50,294.32 116.75,296.56 117.00,295.82 117.25,295.86 117.50,294.55 117.75,295.38 118.00,295.09 118.25,294.53 118.50,295.00 118.75,295.04 119.00,295.20 119.25,295.23 119.50,296.21 119.75,294.45 120.00,295.65 120.25,296.20 120.50,295.86 120.75,295.07 121.00,295.35 121.25,295.58 121.50,294.08 121.75,293.90 122.00,294.13 122.25,294.03 122.50,294.54 122.75,293.94 123.00,294.11 123.25,294.56 123.50,294.06 123.75,294.86 124.00,294.74 124.25,292.92 124.50,293.91 124.75,294.51 125.00,295.16 125.25,294.78 125.50,294.45 125.75,293.46 126.00,293.50 126.25,293.84 126.50,294.17 126.75,294.74 127.00,293.77 127.25,293.83 127.50,294.83 127.75,293.57 128.00,295.70 128.25,294.04 128.50,291.66 128.75,293.90 129.00,293.74 129.25,295.20 129.50,293.28 129.75,293.52 130.00,293.47 130.25,292.91 130.50,293.28 130.75,292.96 131.00,293.19 131.25,292.75 131.50,293.15 131.75,292.98 132.00,291.38 132.25,291.38 132.50,292.34 132.75,293.90 133.00,292.00 133.25,292.92 133.50,292.12 133.75,292.07 134.00,294.64 134.25,294.07 134.50,292.76 134.75,291.27 135.00,293.77 135.25,292.93 135.50,293.80 135.75,293.18 136.00,293.21 136.25,293.62 136.50,292.33 136.75,290.55 137.00,292.81 137.25,292.75 137.50,293.15 137.75,293.08 138.00,292.67 138.25,293.19 138.50,293.07 138.75,292.24 139.00,293.31 139.25,291.70 139.50,292.56 139.75,292.69 140.00,292.30 140.25,295.39 140.50,293.09 140.75,294.09 141.00,293.45 141.25,294.40 141.50,292.95 141.75,294.54 142.00,293.89 142.25,294.01 142.50,293.55 142.75,294.02 143.00,293.72 143.25,292.66 143.50,291.15 143.75,292.25 144.00,293.46 144.25,293.44 144.50,293.57 144.75,291.96 145.00,292.46 145.25,292.23 145.50,292.80 145.80,287.60 146.00,292.35 146.25,291.51 146.50,291.43 146.75,290.36 147.00,291.95 147.25,290.94 147.50,292.47 147.75,291.68 148.00,290.82 148.25,291.60 148.50,291.43 148.75,290.87 149.00,290.38 149.25,291.28 149.50,291.35 149.75,290.47 150.00,290.87 150.25,290.95 150.50,291.15 150.75,292.54 151.00,292.52 151.25,292.20 151.50,292.69 151.75,292.20 152.00,292.13 152.25,292.68 152.50,292.32 152.75,291.54 153.00,292.26 153.25,294.33 153.50,292.00 153.75,290.60 154.00,293.26 154.25,293.09 154.50,293.90 154.75,291.96 155.00,293.85 155.25,293.64 155.50,291.71 155.75,291.36 156.00,292.41 156.25,293.02 156.50,291.81 156.75,292.86 157.00,291.76 157.25,291.79 157.50,291.26 157.75,291.50 158.00,292.16 158.25,292.00 158.50,292.07 158.75,290.83 159.00,291.38 159.25,292.54 159.50,291.26 159.75,289.71 160.00,290.93 160.25,289.56 160.50,292.79 160.75,292.53 161.00,293.26 161.25,292.93 161.50,292.46 161.75,292.75 162.00,293.35 162.25,294.22 162.50,294.19 162.75,293.44 163.00,293.20 163.25,291.91 163.50,292.62 163.75,292.20 164.00,291.75 164.25,290.85 164.50,290.87 164.75,290.87 165.00,290.55 165.25,290.16 165.50,289.96 165.75,288.32 166.00,289.20 166.25,288.65 166.50,288.89 166.75,289.47 167.00,288.57 167.25,290.34 167.50,289.00 167.75,287.81 168.00,288.86 168.25,289.21 168.50,287.35 168.75,288.04 169.00,288.23 169.25,290.09 169.50,288.18 169.75,287.26 170.00,288.06 170.25,287.77 170.50,287.88 170.75,288.22 171.00,286.53 171.25,286.85 171.50,287.31 171.75,286.31 172.00,287.03 172.25,288.09 172.50,286.06 172.75,286.94 173.00,283.83 173.25,286.15 173.50,286.30 173.75,286.03 174.00,285.99 174.25,286.69 174.50,285.53 174.75,285.30 175.00,286.05 175.25,284.32 175.50,284.93 175.75,284.76 176.00,285.42 176.25,285.74 176.50,284.82 176.75,283.86 177.00,284.56 177.25,286.08 177.50,284.14 177.75,287.24 178.00,286.50 178.25,286.44 178.50,286.92 178.75,286.61 179.00,288.42 179.25,287.89 179.50,288.49 179.75,290.68 180.00,288.53 180.25,287.47 180.50,289.81 180.75,288.60 181.00,287.57 181.25,289.07 181.50,289.51 181.75,288.54 182.00,287.12 182.25,287.79 182.50,287.83 182.75,288.09 183.00,287.48 183.25,290.18 183.50,287.56 183.75,288.07 183.90,276.80 184.25,286.12 184.50,293.00 184.75,286.23 185.00,288.34 185.25,287.52 185.50,287.26 185.75,285.92 186.00,287.34 186.25,287.82 186.50,288.14 186.75,286.45 187.00,288.09 187.25,286.97 187.50,287.93 187.75,287.89 188.00,287.06 188.25,287.43 188.50,286.36 188.75,287.74 189.00,288.79 189.25,287.22 189.50,286.42 189.75,284.96 190.00,287.67 190.25,287.56 190.50,286.63 190.75,285.71 191.00,285.97 191.25,285.14 191.50,284.42 191.75,286.38 192.00,285.87 192.25,285.30 192.50,285.82 192.75,287.30 193.00,284.85 193.25,284.46 193.50,285.31 193.75,285.95 194.00,284.68 194.25,283.93 194.50,283.24 194.75,284.80 195.00,284.03 195.25,283.17 195.50,283.40 195.75,284.20 196.00,283.15 196.25,282.97 196.50,284.65 196.75,283.20 197.00,283.63 197.25,282.87 197.50,283.50 197.75,283.26 198.00,282.79 198.25,285.39 198.50,285.98 198.75,286.97 199.00,287.85 199.25,287.40 199.50,290.15 199.75,288.56 200.00,289.13 200.25,290.49 200.50,290.58 200.75,292.05 201.00,292.93 201.25,293.36 201.50,292.85 201.75,292.59 202.00,294.19 202.25,291.27 202.50,291.76 202.75,288.73 203.00,290.70 203.25,289.97 203.50,289.33 203.75,289.16 204.00,288.69 204.25,288.82 204.50,290.09 204.75,287.44 205.00,288.06 205.25,288.17 205.50,288.24 205.75,287.11 206.00,288.30 206.25,287.04 206.50,287.81 206.75,287.27 207.00,287.42 207.25,287.91 207.50,287.25 207.75,286.40 208.00,285.49 208.25,287.07 208.50,285.30 208.75,286.81 209.00,285.95 209.25,285.31 209.50,284.79 209.75,285.36 210.00,286.22 210.25,286.21 210.50,285.37 210.75,285.12 211.00,284.77 211.25,284.90 211.50,284.97 211.75,283.89 212.00,284.13 212.25,284.81 212.50,284.80 212.75,284.97 213.00,284.81 213.25,283.64 213.50,285.67 213.75,283.53 214.00,282.95 214.25,285.84 214.50,285.50 214.75,285.13 215.00,286.49 215.25,288.50 215.50,287.03 215.75,289.84 216.00,290.17 216.25,290.15 216.50,289.93 216.75,289.21 217.00,291.88 217.25,292.68 217.50,292.43 217.75,290.90 218.00,291.04 218.25,291.25 218.50,293.18 218.75,292.24 219.00,290.73 219.25,291.99 219.50,291.47 219.75,290.91 220.00,291.72 220.25,291.27 220.50,289.95 220.75,293.23 221.00,292.94 221.25,289.50 221.50,290.16 221.75,290.02 222.00,289.51 222.25,288.17 222.50,289.27 222.75,290.14 223.00,287.41 223.25,287.26 223.50,286.68 223.75,287.11 224.00,285.52 224.25,286.22 224.50,282.39 224.75,283.63 225.00,283.61 225.25,283.52 225.50,282.97 225.75,282.54 226.00,284.01 226.25,283.08 226.50,283.10 226.75,281.57 227.00,282.07 227.25,283.77 227.50,282.78 227.75,284.14 228.00,283.46 228.25,283.63 228.50,283.50 228.75,283.99 229.00,282.43 229.25,282.77 229.50,281.35 229.75,282.02 230.00,281.94 230.25,282.12 230.50,280.61 230.75,280.11 231.00,280.86 231.25,279.49 231.50,279.31 231.75,280.19 232.00,276.70 232.25,278.95 232.50,278.57 232.75,277.02 233.00,276.82 233.25,277.36 233.50,276.75 233.75,276.64 234.00,276.68 234.25,275.83 234.50,276.04 234.75,276.93 235.00,275.40 235.25,274.59 235.50,274.65 235.75,275.28 236.00,274.91 236.25,273.27 236.50,272.31 236.75,272.32 237.00,273.22 237.25,273.42 237.50,271.41 237.70,259.90 238.00,272.29 238.25,271.79 238.50,272.76 238.75,272.60 239.00,273.57 239.25,273.43 239.50,275.08 239.75,275.01 240.00,274.51 240.25,275.24 240.50,275.24 240.75,276.20 241.00,276.21 241.25,276.15 241.50,276.38 241.75,277.83 242.00,277.47 242.25,279.48 242.50,279.77 242.75,280.03 243.00,280.47 243.25,278.35 243.50,281.38 243.75,282.10 244.00,281.54 244.25,283.51 244.50,282.25 244.75,283.10 245.00,282.97 245.25,283.33 245.50,283.23 245.75,283.78 246.00,282.43 246.25,284.97 246.50,284.58 246.75,285.68 247.00,283.99 247.25,284.78 247.50,284.80 247.75,285.35 248.00,284.52 248.25,283.70 248.50,284.61 248.75,283.84 249.00,285.45 249.25,283.85 249.50,282.25 249.75,284.30 250.00,282.98 250.25,283.06 250.50,283.09 250.75,281.88 251.00,283.99 251.25,283.14 251.50,283.74 251.75,283.28 252.00,284.79 252.25,282.69 252.50,284.28 252.75,284.07 253.00,285.00 253.25,283.27 253.50,284.58 253.75,284.61 254.00,284.27 254.25,283.50 254.50,282.80 254.75,281.62 255.00,281.28 255.25,281.79 255.50,281.47 255.75,280.97 256.00,280.72 256.25,278.95 256.50,279.96 256.75,278.41 257.00,278.29 257.25,277.78 257.50,277.89 257.75,277.93 258.00,278.71 258.25,276.74 258.50,276.10 258.75,275.58 259.00,275.98 259.25,276.06 259.50,274.41 259.75,274.63 260.00,274.95 260.25,274.19 260.50,272.62 260.75,275.37 261.00,272.28 261.25,272.43 261.50,271.93 261.75,271.64 262.00,270.66 262.25,271.29 262.50,269.36 262.75,271.19 263.00,269.55 263.25,271.24 263.50,261.80 263.75,269.64 264.00,275.44 264.25,279.17 264.50,276.73 264.75,271.99 265.00,272.28 265.25,272.43 265.50,276.68 265.75,278.85 266.00,279.65 266.25,277.02 266.50,276.10 266.75,274.70 267.00,278.49 267.25,281.42 267.50,285.44 267.75,280.83 268.00,279.08 268.25,277.19 268.50,279.45 268.75,281.17 269.00,283.04 269.25,285.33 269.50,283.47 269.75,282.20 270.00,280.53 270.25,280.32 270.50,277.93 270.75,279.21 271.00,278.79 271.25,278.74 271.50,277.14 271.75,277.96 272.00,278.55 272.25,276.57 272.50,276.30 272.75,275.71 273.00,275.45 273.25,272.34 273.50,274.77 273.75,273.73 274.00,272.40 274.25,272.41 274.50,271.08 274.75,271.18 275.00,271.42 275.25,270.70 275.50,269.47 275.75,269.89 276.00,269.53 276.25,267.09 276.50,267.38 276.75,267.25 277.00,265.47 277.25,264.62 277.50,264.11 277.75,264.28 278.00,263.63 278.25,262.15 278.50,261.85 278.75,260.62 279.00,260.69 279.25,260.48 279.50,258.07 279.75,260.04 280.00,258.56 280.25,258.56 280.50,258.21 280.75,257.01 281.00,256.65 281.25,255.39 281.50,253.89 281.75,255.81 282.00,256.07 282.25,255.28 282.50,255.93 282.75,253.83 283.00,254.35 283.25,254.85 283.50,254.16 283.75,254.38 284.00,253.12 284.25,253.83 284.50,255.54 284.75,253.11 285.00,252.44 285.25,253.81 285.50,253.42 285.75,250.97 286.00,252.07 286.25,252.29 286.50,251.63 286.75,252.14 287.00,252.51 287.25,251.56 287.50,251.91 287.75,250.58 288.00,252.68 288.25,250.37 288.50,250.21 288.75,250.81 289.00,250.72 289.25,250.88 289.50,250.21 289.75,249.72 290.00,250.21 290.25,249.10 290.50,248.37 290.75,249.90 291.00,248.61 291.25,249.29 291.50,248.59 291.75,248.32 292.00,246.70 292.25,247.53 292.50,248.47 292.75,247.80 293.00,248.43 293.25,248.38 293.50,260.82 293.75,265.61 293.90,287.00 294.25,278.20 294.50,275.72 294.75,270.46 294.90,280.00 295.25,268.84 295.50,276.68 295.75,278.89 296.00,283.18 296.25,270.54 296.60,276.00 296.75,271.48 297.00,265.95 297.25,271.49 297.50,268.24 297.75,263.07 298.00,269.18 298.25,267.99 298.50,269.29 298.75,275.13 299.00,265.16 299.25,263.28 299.50,262.37 299.75,270.68 300.00,262.91 300.25,262.66 300.50,261.46 300.75,262.70 301.00,261.72 301.25,262.35 301.50,261.46 301.75,260.99 302.00,257.94 302.25,260.50 302.50,258.49 302.75,259.06 303.00,261.46 303.25,257.48 303.50,256.67 303.75,255.19 304.00,258.78 304.25,257.54 304.50,257.43 304.75,257.39 305.00,256.53 305.25,256.36 305.50,257.69 305.75,254.50 306.00,258.63 306.25,257.26 306.50,255.17 306.75,255.59 307.00,256.63 307.25,257.45 307.50,253.27 307.75,255.34 308.00,254.69 308.25,255.59 308.50,254.07 308.75,254.75 309.00,253.90 309.25,253.17 309.50,253.04 309.75,254.94 310.00,253.73 310.25,252.28 310.50,252.78 310.75,252.56 311.00,248.19 311.25,249.17 311.50,253.34 311.75,251.57 312.00,252.26 312.25,250.13 312.50,251.06 312.75,251.41 313.00,252.84 313.25,250.70 313.50,250.24 313.75,250.96 314.00,248.64 314.25,252.06 314.50,248.31 314.75,250.19 315.00,245.94 315.25,248.62 315.50,246.57 315.75,246.08 316.00,242.48 316.25,246.81 316.50,248.72 316.75,245.55 317.00,246.13 317.25,245.28 317.50,244.73 317.75,245.81 318.00,243.64 318.25,248.51 318.50,242.94 318.75,242.59 319.00,240.90 319.25,239.76 319.50,246.95 319.75,242.35 320.00,237.98 320.25,241.52 320.50,241.22 320.75,241.42 321.00,241.35 321.25,241.07 321.50,239.22 321.75,238.23 322.00,238.97 322.25,242.02 322.50,242.59 322.75,239.74 323.00,240.29 323.25,241.46 323.50,242.59 323.75,240.24 324.00,242.56 324.25,246.12 324.50,240.18 324.75,245.90 325.00,246.90 325.25,248.43 325.50,261.20 325.75,247.99 326.00,247.68 326.25,246.69 326.50,245.78 326.75,245.94 327.00,246.73 327.25,239.41 327.50,241.05 327.75,240.81 328.00,241.56 328.25,242.45 328.50,246.09 328.75,242.53 329.00,243.48 329.25,242.38 329.50,243.79 329.75,244.44 330.00,241.95 330.25,246.21 330.50,242.75 330.75,241.66 331.00,240.92 331.25,244.36 331.50,240.16 331.75,241.64 332.00,242.01 332.25,241.56 332.50,241.08 332.75,238.95 333.00,238.33 333.20,233.10 333.50,236.80 333.75,241.01 334.00,242.21 334.25,241.41 334.50,239.41 334.75,237.95 335.00,240.12 335.25,239.02 335.50,237.27 335.75,239.58 336.00,240.74 336.25,239.96 336.50,239.75 336.75,240.30 337.00,241.28 337.25,241.66 337.50,241.45 337.75,245.92 338.00,245.81 338.25,243.47 338.50,244.03 338.75,246.97 339.00,240.83 339.25,242.55 339.50,244.30 339.75,245.58 340.00,240.37 340.25,240.74 340.50,243.39 340.75,242.69 341.00,239.16 341.25,243.37 341.50,243.54 341.75,243.08 342.00,241.50 342.25,243.51 342.50,249.53 342.75,239.03 343.00,244.35 343.25,244.44 343.50,241.90 343.75,242.45 344.00,243.92 344.25,245.08 344.40,252.50 344.75,238.69 345.00,242.40 345.25,240.59 345.50,241.89 345.75,248.17 346.00,239.89 346.25,241.43 346.50,238.07 346.75,237.88 347.00,240.49 347.25,240.42 347.50,243.62 347.75,238.87 348.00,241.34 348.25,243.90 348.50,239.03 348.75,240.61 349.00,243.14 349.25,235.54 349.50,239.75 349.75,239.16 350.00,243.81 350.25,234.81 350.50,239.48 350.75,241.16 351.00,238.50 351.25,239.80 351.60,250.00 351.75,238.61 352.00,244.39 352.25,241.61 352.50,235.24 352.75,239.19 353.00,239.46 353.25,236.99 353.50,240.01 353.75,238.15 354.00,239.30 354.25,238.42 354.50,240.10 354.75,237.59 355.00,236.91 355.25,236.60 355.50,238.76 355.75,238.74 356.00,235.70 356.25,236.49 356.50,235.27 356.75,233.56 357.00,238.04 357.25,239.79 357.50,235.14 357.75,234.65 358.00,231.74 358.25,233.49 358.50,235.89 358.75,235.51 359.00,232.86 359.25,235.75 359.50,226.57 359.75,232.10 360.00,232.18 360.25,232.72 360.50,230.62 360.75,230.36 360.90,219.20 361.25,230.51 361.50,248.00 361.75,238.06 362.00,233.66 362.25,227.85 362.50,231.93 362.75,233.33 363.00,226.34 363.25,231.98 363.50,232.04 363.75,232.87 364.00,233.69 364.25,232.63 364.50,233.16 364.75,236.74 365.00,230.27 365.25,237.05 365.50,234.27 365.75,228.74 366.00,232.86 366.25,234.60 366.50,236.48 366.75,238.24 367.00,234.75 367.25,236.96 367.50,240.04 367.75,239.29 368.00,234.32 368.25,237.80 368.40,248.50 368.75,242.25 369.00,237.95 369.25,239.49 369.50,238.83 369.75,235.39 370.00,237.73 370.25,236.11 370.50,235.48 370.75,235.61 371.00,237.95 371.25,234.92 371.50,234.81 371.75,227.89 372.00,234.98 372.25,233.76 372.50,241.41 372.75,232.97 373.00,234.65 373.25,236.11 373.50,233.47 373.75,234.84 374.00,237.77 374.25,235.91 374.50,234.44 374.75,237.18 375.00,232.53 375.25,234.65 375.50,234.15 375.75,234.76 376.00,236.66 376.25,232.35 376.50,235.38 376.75,232.78 377.00,235.18 377.25,233.03 377.50,232.79 377.75,229.35 378.00,227.60 378.25,233.19 378.50,232.65 378.75,228.36 379.00,231.93 379.25,233.41 379.50,224.67 379.75,229.52 380.00,233.19 380.25,230.83 380.50,226.77 380.75,224.91 381.00,227.72 381.25,231.32 381.50,231.15 381.75,228.25 382.00,231.52 382.25,226.77 382.50,229.43 382.75,236.25 383.00,226.47 383.25,230.56 383.50,230.63 383.75,230.10 384.00,235.35 384.25,230.14 384.50,232.64 384.75,231.02 385.00,239.32 385.25,234.94 385.50,241.70 385.75,232.32 386.00,234.93 386.25,249.90 386.50,235.31 386.75,253.96 387.00,245.06 387.25,248.64 387.50,246.51 387.75,250.01 388.00,250.38 388.25,259.78 388.50,245.69 388.75,260.51 389.00,259.29 389.25,256.14 389.60,268.20 389.75,252.46 390.00,244.74 390.25,261.45 390.50,256.77 390.75,249.22 391.00,253.88 391.25,258.69 391.50,244.48 391.75,244.30 392.00,252.62 392.25,252.67 392.50,242.25 392.75,252.60 393.00,241.27 393.25,242.63 393.50,237.25 393.75,244.32 394.00,244.00 394.25,240.05 394.50,242.67 394.75,237.46 395.00,240.13 395.25,240.44 395.50,245.53 395.75,240.69 396.00,234.12 396.25,228.24 396.50,236.51 396.75,241.98 397.00,237.32 397.25,243.73 397.50,237.20 397.75,236.82 398.00,237.34 398.25,237.08 398.50,236.74 398.75,238.93 399.00,234.50 399.25,234.79 399.50,236.48 399.75,232.76 400.00,248.02 400.25,234.91 400.50,225.32 400.75,233.52 401.00,239.40 401.25,239.66 401.50,233.18 401.75,233.05 402.00,239.60 402.25,234.01 402.50,233.19 402.75,237.41 403.00,240.17 403.25,230.89 403.50,232.13 403.75,243.69 404.00,230.52 404.25,229.26 404.50,229.79 404.75,229.56 405.00,238.65 405.25,237.85 405.50,228.59 405.75,227.20 406.00,228.37 406.25,222.75 406.50,226.65 406.75,230.20 407.00,224.55 407.25,226.26 407.50,224.56 407.75,220.08 408.00,225.57 408.25,225.33 408.50,223.50 408.75,225.97 409.00,224.79 409.25,223.72 409.50,222.85 409.75,223.46 410.00,223.61 410.25,225.03 410.50,225.83 410.75,229.17 411.00,226.06 411.25,229.27 411.50,222.60 411.75,220.92 412.00,232.44 412.25,227.18 412.50,228.25 412.75,229.85 413.00,228.30 413.25,226.80 413.50,223.18 413.75,225.35 414.00,224.08 414.25,224.57 414.50,221.85 414.75,222.85 415.00,226.29 415.25,224.72 415.50,220.63 415.75,223.59 416.00,220.97 416.25,221.16 416.50,212.40 416.75,222.28 417.00,221.38 417.25,224.56 417.50,219.84 417.75,219.51 418.00,223.60 418.25,224.41 418.50,222.40 418.75,225.90 419.00,218.17 419.25,228.68 419.50,229.61 419.75,230.71 420.00,229.71 420.30,240.00 420.50,232.15 420.75,227.16 421.00,226.31 421.25,226.22 421.50,227.23 421.75,226.43 422.00,226.65 422.25,227.68 422.50,228.22 422.75,232.35 423.00,234.42 423.25,226.81 423.50,232.38"/>
</g>
<g fill="none" stroke="#5c5c5c" stroke-width="1.1">
<rect x="47.6" y="1.5" width="423.79999999999995" height="308.5"/>
<line x1="47.6" y1="104.5" x2="471.4" y2="104.5"/>
<line x1="47.6" y1="207.5" x2="471.4" y2="207.5"/>
<line x1="44.1" y1="99.1" x2="47.6" y2="99.1"/>
<line x1="44.1" y1="49.2" x2="47.6" y2="49.2"/>
<line x1="44.1" y1="202.6" x2="47.6" y2="202.6"/>
<line x1="44.1" y1="164.2" x2="47.6" y2="164.2"/>
<line x1="44.1" y1="125.8" x2="47.6" y2="125.8"/>
<line x1="44.1" y1="299.0" x2="47.6" y2="299.0"/>
<line x1="44.1" y1="272.5" x2="47.6" y2="272.5"/>
<line x1="44.1" y1="245.9" x2="47.6" y2="245.9"/>
<line x1="44.1" y1="219.4" x2="47.6" y2="219.4"/>
<line x1="98.80" y1="310.0" x2="98.80" y2="313.5"/>
<line x1="153.08" y1="310.0" x2="153.08" y2="313.5"/>
<line x1="207.36" y1="310.0" x2="207.36" y2="313.5"/>
<line x1="261.64" y1="310.0" x2="261.64" y2="313.5"/>
<line x1="315.92" y1="310.0" x2="315.92" y2="313.5"/>
<line x1="370.20" y1="310.0" x2="370.20" y2="313.5"/>
<line x1="424.48" y1="310.0" x2="424.48" y2="313.5"/>
</g>
<g font-family="'Liberation Serif', 'DejaVu Serif', serif" font-size="15.5" fill="#404040">
<text x="40.3" y="103.70" text-anchor="end" textLength="5.8" lengthAdjust="spacingAndGlyphs">0</text>
<text x="40.3" y="53.80" text-anchor="end" textLength="5.8" lengthAdjust="spacingAndGlyphs">1</text>
<text x="40.3" y="207.20" text-anchor="end" textLength="15.2" lengthAdjust="spacingAndGlyphs">0.0</text>
<text x="40.3" y="168.80" text-anchor="end" textLength="15.2" lengthAdjust="spacingAndGlyphs">0.5</text>
<text x="40.3" y="130.40" text-anchor="end" textLength="15.2" lengthAdjust="spacingAndGlyphs">1.0</text>
<text x="40.3" y="303.60" text-anchor="end" textLength="15.2" lengthAdjust="spacingAndGlyphs">0.0</text>
<text x="40.3" y="277.10" text-anchor="end" textLength="15.2" lengthAdjust="spacingAndGlyphs">0.1</text>
<text x="40.3" y="250.50" text-anchor="end" textLength="15.2" lengthAdjust="spacingAndGlyphs">0.2</text>
<text x="40.3" y="224.00" text-anchor="end" textLength="15.2" lengthAdjust="spacingAndGlyphs">0.3</text>
<text x="98.80" y="324.6" text-anchor="middle" textLength="23.4" lengthAdjust="spacingAndGlyphs">4000</text>
<text x="153.08" y="324.6" text-anchor="middle" textLength="23.4" lengthAdjust="spacingAndGlyphs">5000</text>
<text x="207.36" y="324.6" text-anchor="middle" textLength="23.4" lengthAdjust="spacingAndGlyphs">6000</text>
<text x="261.64" y="324.6" text-anchor="middle" textLength="23.4" lengthAdjust="spacingAndGlyphs">7000</text>
<text x="315.92" y="324.6" text-anchor="middle" textLength="23.4" lengthAdjust="spacingAndGlyphs">8000</text>
<text x="370.20" y="324.6" text-anchor="middle" textLength="23.4" lengthAdjust="spacingAndGlyphs">9000</text>
<text x="424.48" y="324.6" text-anchor="middle" textLength="29.0" lengthAdjust="spacingAndGlyphs">10000</text>
</g>
<text x="195.6" y="345.6" font-family="'Liberation Serif', 'DejaVu Serif', serif" font-size="17" fill="#404040" textLength="84.0" lengthAdjust="spacingAndGlyphs">Wavelength</text>
<text x="285.4" y="345.6" font-family="'Liberation Serif', 'DejaVu Serif', serif" font-size="17" font-style="italic" fill="#404040" textLength="9.6" lengthAdjust="spacingAndGlyphs">λ</text>
<text x="295.0" y="346.6" font-family="'Liberation Serif', 'DejaVu Serif', serif" font-size="18.5" fill="#404040" textLength="4.6" lengthAdjust="spacingAndGlyphs">(</text>
<text x="301.6" y="345.6" font-family="'Liberation Serif', 'DejaVu Serif', serif" font-size="17" font-style="italic" fill="#404040" textLength="12.4" lengthAdjust="spacingAndGlyphs">Å</text>
<text x="315.0" y="346.6" font-family="'Liberation Serif', 'DejaVu Serif', serif" font-size="18.5" fill="#404040" textLength="5.6" lengthAdjust="spacingAndGlyphs">)</text>
<g transform="translate(16.9,254) rotate(-90)" font-family="'Liberation Serif', 'DejaVu Serif', serif" fill="#404040">
<text x="0.4" y="0" font-size="17.5" textLength="32.4" lengthAdjust="spacingAndGlyphs">Flux</text>
<text x="38.0" y="1.0" font-size="20.5" textLength="4.6" lengthAdjust="spacingAndGlyphs">[</text>
<text x="44.6" y="0" font-size="17.5" textLength="9.8" lengthAdjust="spacingAndGlyphs">×</text>
<text x="56.6" y="0" font-size="17.5" textLength="16.6" lengthAdjust="spacingAndGlyphs">10</text>
<text x="74.2" y="-7.4" font-size="11.6" textLength="20.2" lengthAdjust="spacingAndGlyphs">−15</text>
<text x="100.3" y="0" font-size="17.5" textLength="22.0" lengthAdjust="spacingAndGlyphs">erg</text>
<text x="122.4" y="3.6" font-size="23" textLength="8.0" lengthAdjust="spacingAndGlyphs">/</text>
<text x="130.5" y="0" font-size="17.5" textLength="7.2" lengthAdjust="spacingAndGlyphs">s</text>
<text x="137.6" y="3.6" font-size="23" textLength="8.0" lengthAdjust="spacingAndGlyphs">/</text>
<text x="146.2" y="0" font-size="17.5" textLength="20.6" lengthAdjust="spacingAndGlyphs">cm</text>
<text x="166.9" y="-7.4" font-size="11.6" textLength="6.0" lengthAdjust="spacingAndGlyphs">2</text>
<text x="173.6" y="3.6" font-size="23" textLength="8.8" lengthAdjust="spacingAndGlyphs">/</text>
<text x="182.6" y="0" font-size="17.5" font-style="italic" textLength="12.2" lengthAdjust="spacingAndGlyphs">Å</text>
<text x="195.2" y="1.0" font-size="20.5" textLength="3.8" lengthAdjust="spacingAndGlyphs">]</text>
</g>
<rect x="64.7" y="8.0" width="36.8" height="18.0" rx="2.5" fill="#fff" fill-opacity="0.8" stroke="#c2c2c2" stroke-width="1.1"/>
<text x="68.8" y="20.0" font-family="'Liberation Serif', 'DejaVu Serif', serif" font-size="14.0" fill="#404040" textLength="28.0" lengthAdjust="spacingAndGlyphs">16bse</text>
<rect x="64.7" y="110.6" width="41.1" height="18.8" rx="2.5" fill="#fff" fill-opacity="0.8" stroke="#c2c2c2" stroke-width="1.1"/>
<text x="68.8" y="122.6" font-family="'Liberation Serif', 'DejaVu Serif', serif" font-size="14.0" fill="#404040" textLength="32.3" lengthAdjust="spacingAndGlyphs">16bxw</text>
<rect x="64.7" y="213.6" width="34.3" height="18.8" rx="2.5" fill="#fff" fill-opacity="0.8" stroke="#c2c2c2" stroke-width="1.1"/>
<text x="68.8" y="225.6" font-family="'Liberation Serif', 'DejaVu Serif', serif" font-size="14.0" fill="#404040" textLength="25.5" lengthAdjust="spacingAndGlyphs">17alz</text>
</svg>
</body></html>
